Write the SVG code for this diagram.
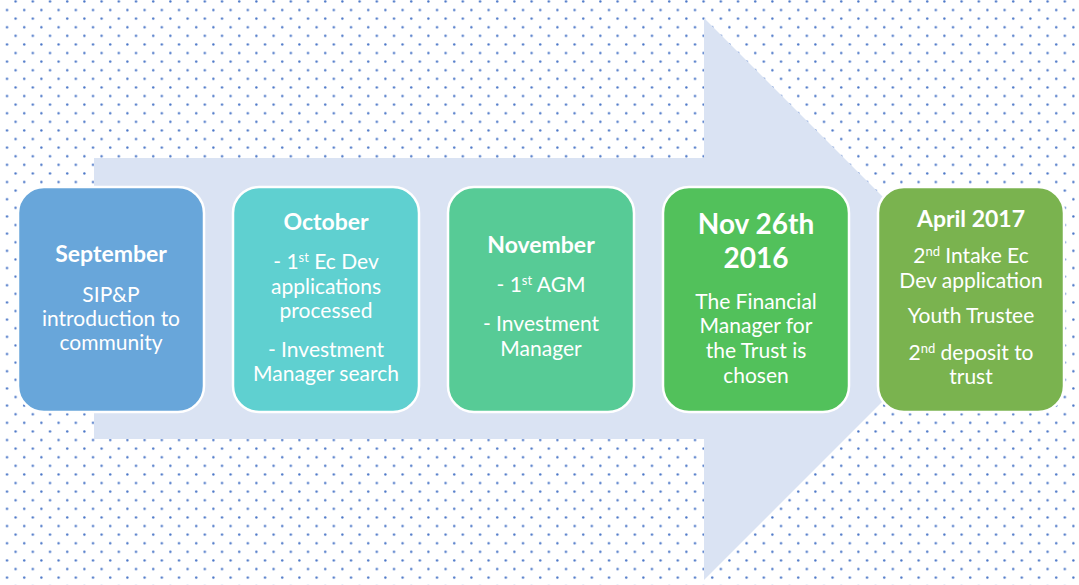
<svg xmlns="http://www.w3.org/2000/svg" width="1079" height="585" viewBox="0 0 1079 585">
<defs>
<pattern id="dots" patternUnits="userSpaceOnUse" x="0" y="0" width="17.2" height="17.2">
<circle cx="7" cy="10" r="1.2" fill="#4874c6"/>
<circle cx="15.6" cy="1.4" r="1.2" fill="#4874c6"/>
</pattern>
<style>
.box{stroke:#ffffff;stroke-width:2.5}
text{font-family:Lato,"Open Sans","Liberation Sans",sans-serif;fill:#ffffff;text-anchor:middle;font-size:21px}
.h{font-weight:bold;font-size:23px}
.hb{font-weight:bold;font-size:28px}
.sup{font-size:13px}
</style>
</defs>
<rect width="1079" height="585" fill="#ffffff"/>
<rect width="1079" height="585" fill="url(#dots)"/>
<g id="arrow">
<polygon points="94,158 704,158 704,18 985,299 704,580 704,439 94,439" fill="#dae3f3"/>
</g>
<g id="connectors"/>
<g id="node-september">
<rect class="box" x="18" y="187" width="186" height="225" rx="26" fill="#68a6da"/>
<text class="h" x="111" y="262">September</text>
<text x="111" y="302">SIP&amp;P</text>
<text x="111" y="326">introduction to</text>
<text x="111" y="350">community</text>
</g>
<g id="node-october">
<rect class="box" x="233" y="187" width="186" height="225" rx="26" fill="#5fd0d0"/>
<text class="h" x="326" y="230">October</text>
<text x="326" y="269">- 1<tspan class="sup" dy="-7">st</tspan><tspan dy="7"> Ec Dev</tspan></text>
<text x="326" y="294">applications</text>
<text x="326" y="318">processed</text>
<text x="326" y="357">- Investment</text>
<text x="326" y="381">Manager search</text>
</g>
<g id="node-november">
<rect class="box" x="448" y="187" width="186" height="225" rx="26" fill="#57cb96"/>
<text class="h" x="541" y="253">November</text>
<text x="541" y="292">- 1<tspan class="sup" dy="-7">st</tspan><tspan dy="7"> AGM</tspan></text>
<text x="541" y="331">- Investment</text>
<text x="541" y="356">Manager</text>
</g>
<g id="node-nov26">
<rect class="box" x="663" y="187" width="186" height="225" rx="26" fill="#52c15b"/>
<text class="hb" x="756" y="234">Nov 26th</text>
<text class="hb" x="756" y="268">2016</text>
<text x="756" y="309">The Financial</text>
<text x="756" y="333">Manager for</text>
<text x="756" y="358">the Trust is</text>
<text x="756" y="383">chosen</text>
</g>
<g id="node-april2017">
<rect class="box" x="878" y="187" width="186" height="225" rx="26" fill="#7ab34f"/>
<text class="h" x="971" y="227">April 2017</text>
<text x="971" y="263">2<tspan class="sup" dy="-7">nd</tspan><tspan dy="7"> Intake Ec</tspan></text>
<text x="971" y="288">Dev application</text>
<text x="971" y="323">Youth Trustee</text>
<text x="971" y="360">2<tspan class="sup" dy="-7">nd</tspan><tspan dy="7"> deposit to</tspan></text>
<text x="971" y="384">trust</text>
</g>
</svg>
